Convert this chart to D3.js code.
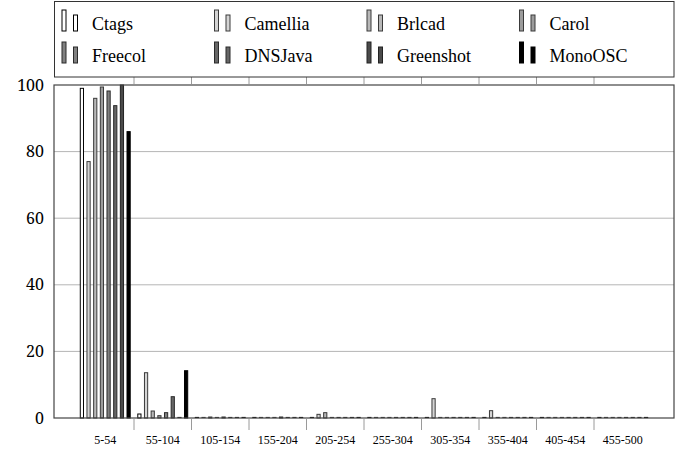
<!DOCTYPE html>
<html><head><meta charset="utf-8">
<script src="https://cdn.jsdelivr.net/npm/d3@7/dist/d3.min.js"></script>
<style>body{margin:0;background:#fff;}svg{display:block;}</style>
</head><body>
<script>
const categories = ["5-54","55-104","105-154","155-204","205-254","255-304","305-354","355-404","405-454","455-500"];
const series = ["Ctags","Camellia","Brlcad","Carol","Freecol","DNSJava","Greenshot","MonoOSC"];
const Ctags     = [99, 1.2, 0, 0, 0, 0, 0, 0, 0, 0];
const Camellia  = [77, 13.6, 0, 0, 1.1, 0, 5.8, 2.2, 0, 0];
const Brlcad    = [96, 2.1, 0.3, 0, 1.6, 0, 0, 0, 0, 0];
const Carol     = [99.4, 0.7, 0, 0, 0, 0, 0, 0, 0, 0];
const Freecol   = [98.2, 1.6, 0.3, 0.3, 0, 0, 0, 0, 0, 0];
const DNSJava   = [93.8, 6.4, 0, 0, 0, 0, 0, 0, 0, 0];
const Greenshot = [100, 0, 0, 0, 0, 0, 0, 0, 0, 0];
const MonoOSC   = [86, 14.2, 0, 0, 0, 0, 0, 0, 0, 0];
const yTicks = [0, 20, 40, 60, 80, 100];

const values = [Ctags, Camellia, Brlcad, Carol, Freecol, DNSJava, Greenshot, MonoOSC];
const fills   = ["#ffffff","#d4d4d4","#b8b8b8","#9c9c9c","#808080","#666666","#4a4a4a","#000000"];
const strokes = ["#000000","#3a3a3a","#3a3a3a","#3a3a3a","#2a2a2a","#2a2a2a","#222222","#000000"];
const SERIF = '"Liberation Serif", "Times New Roman", serif';

const W = 680, H = 455;
const L = 54, R = 674, T = 85, B = 418;
const svg = d3.select("body").append("svg").attr("width", W).attr("height", H);

const x0 = d3.scalePoint().domain(categories).range([105.25, 622.75]);
const step = x0.step();
const x1 = d3.scaleBand().domain(series).range([-26.7, 26.7]).paddingInner(0.4).paddingOuter(0.2);
const y = d3.scaleLinear().domain([0, 100]).range([B, T]);

// grid lines
svg.append("g").selectAll("line").data(yTicks.filter(d => d > 0 && d < 100)).join("line")
  .attr("x1", L).attr("x2", R).attr("y1", d => y(d)).attr("y2", d => y(d))
  .attr("stroke", "#b5b5b5").attr("stroke-width", 1);

// bars
const bw = 3.2;
series.forEach((s, si) => {
  const g = svg.append("g");
  const cx = c => x0(c) + x1(s) + x1.bandwidth()/2;
  g.selectAll("rect").data(categories.filter((c, i) => values[si][i] > 0)).join("rect")
    .attr("x", c => cx(c) - bw/2)
    .attr("width", bw)
    .attr("y", c => y(values[si][categories.indexOf(c)]))
    .attr("height", c => B - y(values[si][categories.indexOf(c)]))
    .attr("fill", fills[si]).attr("stroke", strokes[si]).attr("stroke-width", 1);
  g.selectAll("line").data(categories.filter((c, i) => values[si][i] === 0)).join("line")
    .attr("x1", c => cx(c) - bw/2 - 0.5).attr("x2", c => cx(c) + bw/2 + 0.5)
    .attr("y1", B - 0.5).attr("y2", B - 0.5)
    .attr("stroke", strokes[si]).attr("stroke-width", 1.2);
});

// frame
svg.append("rect").attr("x", L).attr("y", T).attr("width", R - L).attr("height", B - T)
  .attr("fill", "none").attr("stroke", "#444").attr("stroke-width", 1.2);

// x boundary ticks
const bounds = categories.slice(0, -1).map(c => x0(c) + step/2);
svg.append("g").selectAll("line").data(bounds).join("line")
  .attr("x1", d => d).attr("x2", d => d).attr("y1", B + 1).attr("y2", B + 12)
  .attr("stroke", "#9a9a9a").attr("stroke-width", 1);
svg.append("g").selectAll("line").data(bounds).join("line")
  .attr("x1", d => d).attr("x2", d => d).attr("y1", T - 1).attr("y2", T - 8)
  .attr("stroke", "#9a9a9a").attr("stroke-width", 1);

// x labels
svg.append("g").selectAll("text").data(categories).join("text")
  .style("font-family", SERIF)
  .attr("x", c => x0(c)).attr("y", 444).attr("text-anchor", "middle")
  .attr("font-size", 12)
  .text(d => d);

// y labels
const yAxis = d3.axisLeft(y).tickValues(yTicks).tickSize(0).tickPadding(10);
const ya = svg.append("g").attr("transform", `translate(${L},0)`).call(yAxis);
ya.select(".domain").remove();
ya.selectAll("text").style("font-family", '"Noto Serif", "Liberation Serif", serif').attr("font-size", 16).attr("fill", "#000");

// legend
svg.append("rect").attr("x", 54.5).attr("y", 1.5).attr("width", 619.5).attr("height", 75.5)
  .attr("fill", "#fff").attr("stroke", "#333").attr("stroke-width", 1);
series.forEach((s, si) => {
  const col = si % 4, row = Math.floor(si / 4);
  const gx = 62 + col * 152.5, base = 31 + row * 32;
  const g = svg.append("g");
  g.append("rect").attr("x", gx).attr("y", base - 21).attr("width", 4).attr("height", 21)
    .attr("fill", fills[si]).attr("stroke", strokes[si]);
  g.append("rect").attr("x", gx + 11.5).attr("y", base - 16).attr("width", 4).attr("height", 16)
    .attr("fill", fills[si]).attr("stroke", strokes[si]);
  g.append("text").style("font-family", SERIF).attr("x", gx + 30).attr("y", base - 1)
    .attr("font-size", 18)
    .text(s);
});
</script>
</body></html>
